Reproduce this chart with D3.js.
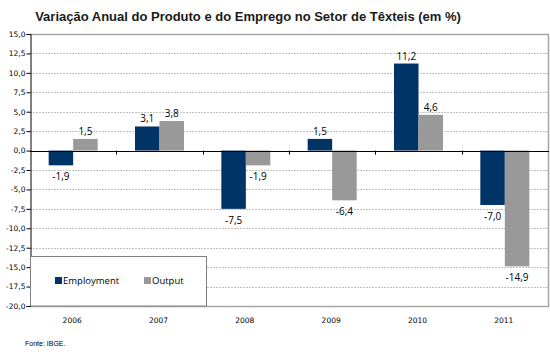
<!DOCTYPE html>
<html><head><meta charset="utf-8">
<script src="https://cdn.jsdelivr.net/npm/d3@7"></script>
<style>body{margin:0;background:#fff}svg{display:block}</style>
</head><body>
<script>
const categories = ["2006","2007","2008","2009","2010","2011"];
const employment = [-1.9, 3.1, -7.5, 1.5, 11.2, -7.0];
const output = [1.5, 3.8, -1.9, -6.4, 4.6, -14.9];
const seriesNames = ["Employment","Output"];
const yTicks = [15,12.5,10,7.5,5,2.5,0,-2.5,-5,-7.5,-10,-12.5,-15,-17.5,-20];
const title = "Variação Anual do Produto e do Emprego no Setor de Têxteis (em %)";
const source = "Fonte: IBGE.";

const W = 550, H = 356;
const L = 30, R = 548, T = 34, B = 306;
const colors = ["#003366", "#999999"];
const fmt = v => v.toFixed(1).replace(".", ",");

const svg = d3.select("body").append("svg").attr("width", W).attr("height", H);

const x = d3.scaleBand().domain(categories).range([L, R]).paddingInner(0).paddingOuter(0);
const y = d3.scaleLinear().domain([-20, 15]).range([B, T]);
const barW = 24.5;

svg.append("text").attr("x", 248).attr("y", 21).attr("text-anchor", "middle")
  .attr("font-family", "Liberation Sans, Arial, sans-serif").attr("font-weight", "bold")
  .attr("font-size", 13).attr("fill", "#1a1a1a").text(title);

// gridlines
svg.append("g").selectAll("line").data(yTicks.filter(v => v !== 0 && v !== 15)).join("line")
  .attr("x1", L).attr("x2", R).attr("y1", d => Math.round(y(d)) + 0.5).attr("y2", d => Math.round(y(d)) + 0.5)
  .attr("stroke", "#c0c0c0").attr("stroke-dasharray", "2,1");

// plot border
svg.append("path").attr("d", `M${L},${T+0.5}H${R+0.5}V${B+0.5}H${L}`)
  .attr("fill", "none").attr("stroke", "#a6a6a6").attr("stroke-width", 1.5);

// y axis
const yAxis = d3.axisLeft(y).tickValues(yTicks).tickSize(4).tickFormat(fmt);
const gy = svg.append("g").attr("transform", `translate(${L + 0.5},0)`).call(yAxis);
gy.select(".domain").attr("stroke", "#000");
gy.selectAll(".tick line").attr("stroke", "#000");
gy.selectAll("text").attr("font-family", "DejaVu Sans, Verdana, sans-serif").attr("font-size", 7.5).attr("fill", "#000").attr("x", -5);

// bars
const groups = [employment, output];
groups.forEach((vals, si) => {
  svg.append("g").selectAll("rect").data(vals).join("rect")
    .attr("x", (d, i) => x(categories[i]) + x.bandwidth() / 2 - barW + si * barW)
    .attr("width", barW)
    .attr("y", d => y(Math.max(0, d)))
    .attr("height", d => Math.abs(y(d) - y(0)))
    .attr("fill", colors[si]);
  svg.append("g").selectAll("text").data(vals).join("text")
    .attr("x", (d, i) => x(categories[i]) + x.bandwidth() / 2 - barW / 2 + si * barW)
    .attr("y", d => d >= 0 ? y(d) - 4 : y(d) + 15)
    .attr("text-anchor", "middle")
    .attr("font-family", "Open Sans, Liberation Sans, sans-serif").attr("font-size", 10)
    .attr("fill", "#000").text(fmt);
});

// zero axis with category ticks
svg.append("line").attr("x1", L).attr("x2", R + 1).attr("y1", Math.round(y(0)) + 0.5).attr("y2", Math.round(y(0)) + 0.5)
  .attr("stroke", "#000");
svg.append("g").selectAll("line").data(categories.slice(1)).join("line")
  .attr("x1", d => Math.round(x(d)) + 0.5).attr("x2", d => Math.round(x(d)) + 0.5)
  .attr("y1", y(0)).attr("y2", y(0) + 4).attr("stroke", "#000");

// x labels
svg.append("g").selectAll("text").data(categories).join("text")
  .attr("x", d => x(d) + x.bandwidth() / 2 - 1).attr("y", 323).attr("text-anchor", "middle")
  .attr("font-family", "DejaVu Sans, Verdana, sans-serif").attr("font-size", 7.5).attr("fill", "#000").text(d => d);

// legend
const lg = svg.append("g");
lg.append("rect").attr("x", L + 0.5).attr("y", 256.5).attr("width", 176).attr("height", 49.5)
  .attr("fill", "#fff").attr("stroke", "#808080");
const lx = [55, 144];
seriesNames.forEach((n, i) => {
  lg.append("rect").attr("x", lx[i]).attr("y", 277).attr("width", 7).attr("height", 7).attr("fill", colors[i]);
  lg.append("text").attr("x", lx[i] + 8).attr("y", 284).attr("font-family", "Open Sans, Liberation Sans, sans-serif")
    .attr("font-size", 9.5).attr("fill", "#000").text(n);
});

svg.append("text").attr("x", 25).attr("y", 346).attr("font-family", "Liberation Sans, Arial, sans-serif")
  .attr("font-size", 7).attr("fill", "#000").text(source);
</script>
</body></html>
